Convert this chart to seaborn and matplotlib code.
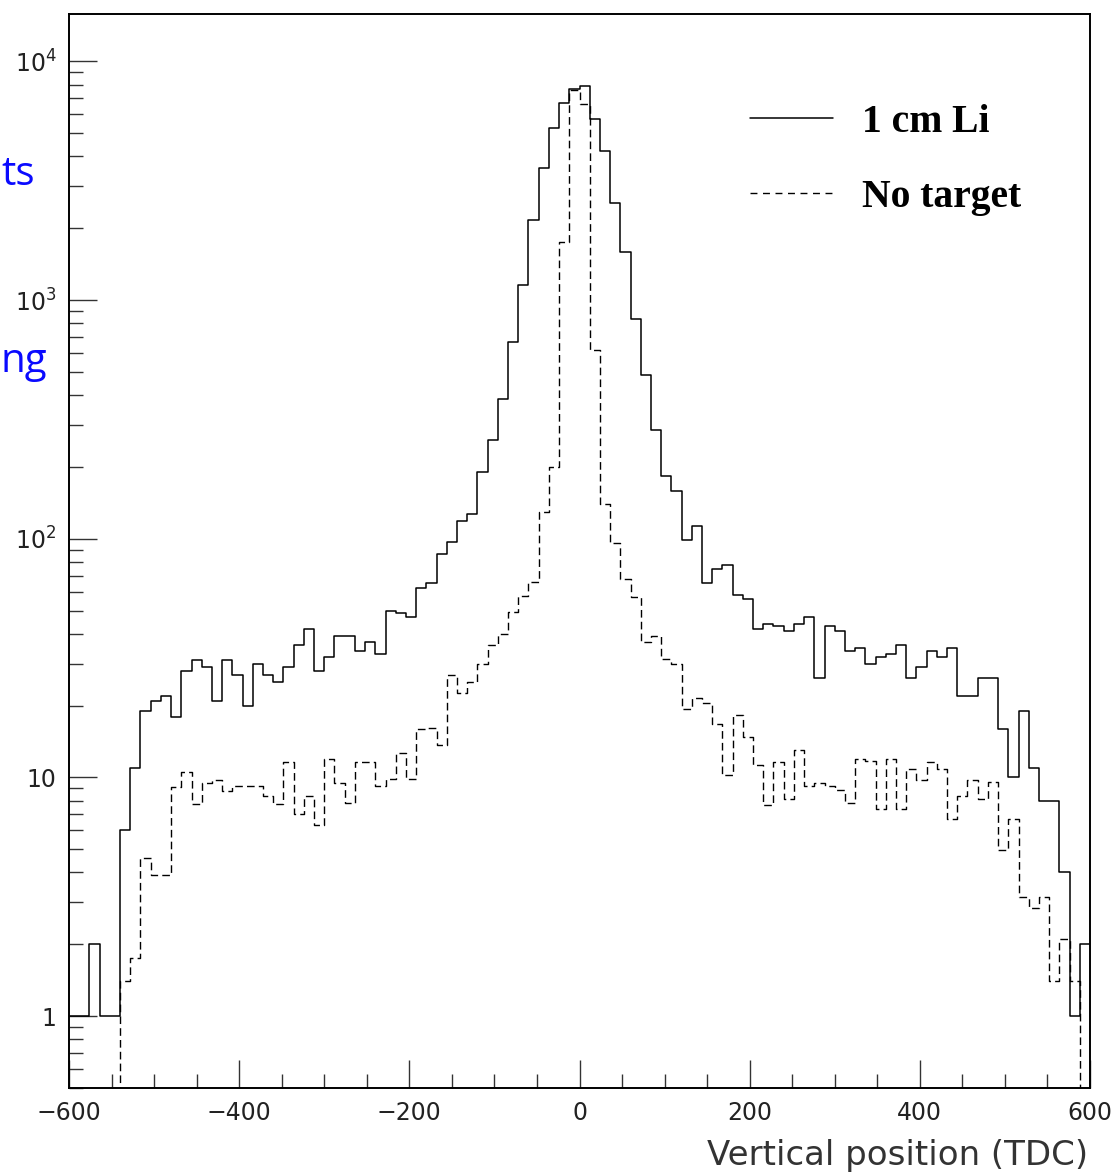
import numpy as np
import pandas as pd
import matplotlib
matplotlib.use("Agg")
import matplotlib.pyplot as plt
import seaborn as sns
from matplotlib.ticker import MultipleLocator, LogLocator, NullFormatter, FuncFormatter
from matplotlib.lines import Line2D

# ---------------- data ----------------
x_low, x_high, n_bins = -600, 600, 100

li_counts = [
    1, 1, 2, 1, 1, 6, 11, 19, 21, 22,
    18, 28, 31, 29, 21, 31, 27, 20, 30, 27,
    25, 29, 36, 42, 28, 32, 39, 39, 34, 37,
    33, 50, 49, 47, 62, 65, 86, 97, 119, 127,
    190, 259, 386, 669, 1160, 2160, 3570, 5280, 6670, 7680,
    7910, 5760, 4215, 2540, 1584, 835, 484, 285, 183, 158,
    99, 113, 65, 75, 78, 58, 56, 42, 44, 43,
    41, 44, 47, 26, 43, 41, 34, 35, 30, 32,
    33, 36, 26, 29, 34, 32, 35, 22, 22, 26,
    26, 16, 10, 19, 11, 8, 8, 4, 1, 2,
]

notarget_counts = [
    0, 0, 0, 0, 0, 1.4, 1.76, 4.6, 3.9, 3.9,
    9.1, 10.5, 7.75, 9.5, 9.8, 8.8, 9.2, 9.2, 9.2, 8.4,
    7.75, 11.6, 7.0, 8.4, 6.35, 12.0, 9.5, 7.8, 11.6, 11.6,
    9.2, 9.9, 12.7, 9.9, 15.9, 16.1, 13.7, 26.8, 22.6, 25.0,
    30.0, 36.0, 39.8, 49.2, 57.7, 66, 129, 200, 1750, 7600,
    6660, 620, 140, 96, 68, 57, 36.8, 39.0, 31.4, 30,
    19.3, 21.5, 20.6, 16.8, 10.2, 18.3, 14.8, 11.3, 7.7, 11.6,
    8.1, 13.0, 9.2, 9.5, 9.2, 8.85, 7.8, 11.9, 11.7, 7.4,
    11.9, 7.4, 10.9, 9.8, 11.6, 10.9, 6.7, 8.4, 9.8, 8.1,
    9.55, 4.96, 6.7, 3.17, 2.85, 3.17, 1.4, 2.1, 1.4, 0,
]

series_labels = ["1 cm Li", "No target"]
x_label = "Vertical position (TDC)"

edges = np.linspace(x_low, x_high, n_bins + 1)
centers = 0.5 * (edges[:-1] + edges[1:])
df = pd.DataFrame({"pos": centers, "li": li_counts, "nt": notarget_counts})

# ---------------- style ----------------
sns.set_style("ticks")
plt.rcParams["font.family"] = ["DejaVu Sans"]
plt.rcParams["mathtext.default"] = "regular"

fig = plt.figure(figsize=(11.16, 11.76), dpi=100)
ax = fig.add_axes([69 / 1116, 1 - 1088 / 1176, (1090 - 69) / 1116, (1088 - 14) / 1176])

dash = (0, (5.5, 3.0))
sns.histplot(data=df, x="pos", weights="li", bins=n_bins, binrange=(x_low, x_high),
             element="step", fill=False, color="black", linewidth=1.1, ax=ax)
sns.histplot(data=df, x="pos", weights="nt", bins=n_bins, binrange=(x_low, x_high),
             element="step", fill=False, color="black", linewidth=1.0, linestyle=dash, ax=ax)

ax.set_yscale("log")
ax.set_xlim(x_low, x_high)
ax.set_ylim(0.5, 1.58e4)
ax.set_xlabel("")
ax.set_ylabel("")

for s in ["top", "right", "left", "bottom"]:
    ax.spines[s].set_color("black")
    ax.spines[s].set_linewidth(1.4)

ax.xaxis.set_major_locator(MultipleLocator(200))
ax.xaxis.set_minor_locator(MultipleLocator(50))
ax.yaxis.set_major_locator(LogLocator(base=10, numticks=10))
ax.yaxis.set_minor_locator(LogLocator(base=10, subs=np.arange(2, 10), numticks=20))
ax.yaxis.set_minor_formatter(NullFormatter())


def yfmt(v, pos):
    if v <= 0:
        return ""
    e = int(round(np.log10(v)))
    if e == 0:
        return "1"
    if e == 1:
        return "10"
    return r"$10^{%d}$" % e


ax.yaxis.set_major_formatter(FuncFormatter(yfmt))
ax.tick_params(which="major", direction="in", length=20, width=1.0, colors="#333333",
               labelsize=17, pad=9, top=False, right=False)
ax.tick_params(which="minor", direction="in", length=10, width=1.0, colors="#333333",
               top=False, right=False)
for lab in ax.get_xticklabels() + ax.get_yticklabels():
    lab.set_color("#222222")

fig.text(1088 / 1116, 1 - 1155 / 1176, x_label, ha="right", va="center",
         fontsize=24.5, color="#333333")

handles = [Line2D([], [], color="black", linewidth=1.1),
           Line2D([], [], color="black", linewidth=1.0, linestyle=(0, (5.0, 4.0)))]
leg = ax.legend(handles, series_labels, loc="upper left", bbox_to_anchor=(0.667, 0.916),
                frameon=False, borderpad=0, borderaxespad=0, handlelength=2.1,
                handletextpad=0.72, labelspacing=0.95, labelcolor="black",
                prop={"family": "Liberation Serif", "weight": "bold", "size": 28.5})

# fragments of overlaid slide text at the left edge
fig.text(1 / 1116, 1 - 175 / 1176, "ts", ha="left", va="center", fontsize=29,
         color="#0a0aff", family="Open Sans")
fig.text(1 / 1116, 1 - 362 / 1176, "ng", ha="left", va="center", fontsize=29,
         color="#0a0aff", family="Open Sans")

fig.savefig("out.png", dpi=100, facecolor="white")
